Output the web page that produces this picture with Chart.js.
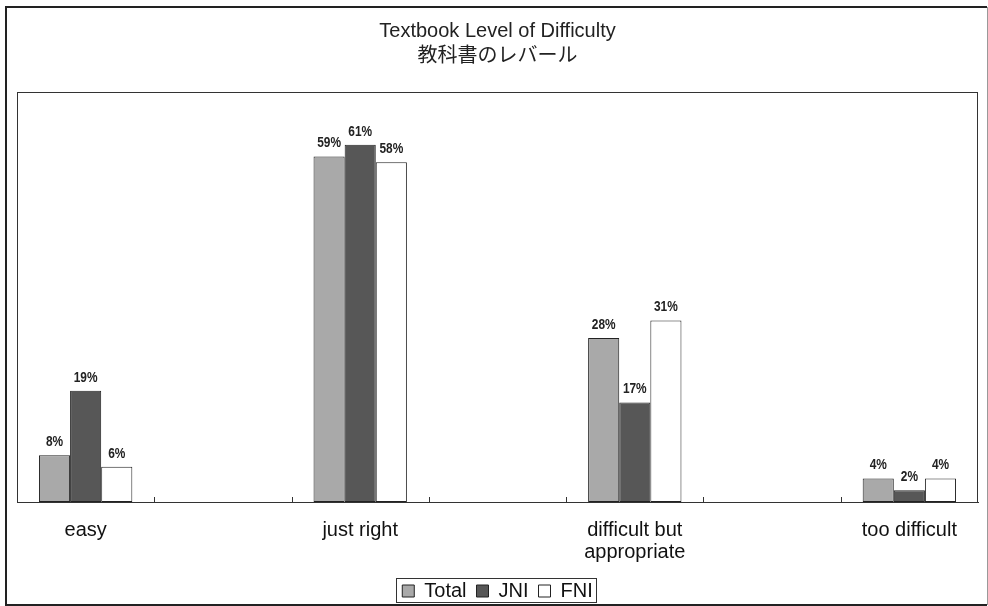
<!DOCTYPE html>
<html><head><meta charset="utf-8">
<script src="https://cdn.jsdelivr.net/npm/chart.js@4/dist/chart.umd.min.js"></script>
<style>html,body{margin:0;padding:0;background:#fff}#wrap{width:988px;height:606px}</style>
</head><body><div id="wrap"><canvas id="c" width="988" height="606"></canvas></div>
<script>
// ---- data ----
const categories = [["easy"], ["just right"], ["difficult but", "appropriate"], ["too difficult"]];
const seriesNames = ["Total", "JNI", "FNI"];
const totalValues = [8, 59, 28, 4];
const jniValues = [19, 61, 17, 2];
const fniValues = [6, 58, 31, 4];
const titleLines = ["Textbook Level of Difficulty", "教科書のレバール"];
const yMax = 70;

const seriesValues = [totalValues, jniValues, fniValues];
const seriesColors = ["#a9a9a9", "#575757", "#ffffff"];

const FONT = "'Liberation Sans', Arial, 'Noto Sans CJK JP', sans-serif";

const datasets = seriesNames.map((name, s) => ({
  label: name,
  data: seriesValues[s].map((v, i) => ({x: i, y: v})),
  backgroundColor: seriesColors[s],
  borderColor: "#222",
  borderWidth: 1,
  borderSkipped: false,
  categoryPercentage: 0.34,
  barPercentage: 1.0
}));

const decorPlugin = {
  id: 'decor',
  beforeDraw(chart) {
    const ctx = chart.ctx;
    ctx.save();
    ctx.fillStyle = '#fff';
    ctx.fillRect(0, 0, chart.width, chart.height);
    ctx.restore();
  },
  afterDatasetsDraw(chart) {
    const ctx = chart.ctx;
    const a = chart.chartArea;
    const xs = chart.scales.x;
    ctx.save();
    // plot frame
    ctx.strokeStyle = '#333';
    ctx.lineWidth = 1;
    ctx.strokeRect(a.left + 0.5, a.top + 0.5, a.right - a.left - 1, a.bottom - a.top);
    // inner tick marks at category boundaries
    ctx.beginPath();
    for (let k = 1; k < categories.length * 2 - 1; k++) {
      const v = -0.25 + k * 0.5;
      const px = Math.round(xs.getPixelForValue(v)) + 0.5;
      ctx.moveTo(px, a.bottom);
      ctx.lineTo(px, a.bottom - 5);
    }
    ctx.stroke();
    // value labels
    ctx.fillStyle = '#222';
    ctx.font = "bold 14px 'Liberation Sans', Arial, sans-serif";
    ctx.textAlign = 'center';
    ctx.textBaseline = 'bottom';
    chart.data.datasets.forEach((ds, di) => {
      const meta = chart.getDatasetMeta(di);
      meta.data.forEach((el, i) => {
        ctx.save();
        ctx.translate(el.x, el.y - 6);
        ctx.scale(0.85, 1);
        ctx.fillText(seriesValues[di][i] + '%', 0, 0);
        ctx.restore();
      });
    });
    ctx.restore();
  },
  afterDraw(chart) {
    const ctx = chart.ctx;
    ctx.save();
    // legend frame
    const lg = chart.legend;
    if (lg && lg.legendHitBoxes && lg.legendHitBoxes.length) {
      const hb = lg.legendHitBoxes;
      const l = Math.min(...hb.map(h => h.left)) - 6;
      const r = Math.max(...hb.map(h => h.left + h.width)) + 4;
      const t = Math.min(...hb.map(h => h.top)) - 3;
      const b = Math.max(...hb.map(h => h.top + h.height)) + 1;
      ctx.strokeStyle = '#333';
      ctx.lineWidth = 1;
      ctx.strokeRect(Math.round(l) + 0.5, Math.round(t) + 0.5, Math.round(r - l), Math.round(b - t));
    }
    // outer frame
    ctx.strokeStyle = '#222';
    ctx.lineWidth = 2;
    ctx.beginPath();
    ctx.moveTo(987, 7); ctx.lineTo(6, 7); ctx.lineTo(6, 605); ctx.lineTo(987, 605);
    ctx.stroke();
    ctx.strokeStyle = '#999';
    ctx.lineWidth = 1;
    ctx.beginPath();
    ctx.moveTo(987.5, 7); ctx.lineTo(987.5, 605);
    ctx.stroke();
    ctx.restore();
  }
};

new Chart(document.getElementById('c'), {
  type: 'bar',
  data: { datasets },
  options: {
    responsive: false,
    devicePixelRatio: 1,
    animation: false,
    layout: { padding: { left: 17, right: 10, top: 0, bottom: 0 } },
    plugins: {
      title: {
        display: true,
        text: titleLines,
        color: '#222',
        font: { family: FONT, size: 20, weight: 'normal', lineHeight: 1.25 },
        padding: { top: 19, bottom: 23 }
      },
      legend: {
        display: true,
        position: 'bottom',
        maxHeight: 35,
        labels: {
          color: '#111',
          font: { family: FONT, size: 20 },
          boxWidth: 12,
          boxHeight: 12,
          padding: 10
        }
      },
      tooltip: { enabled: false }
    },
    scales: {
      x: {
        type: 'linear',
        min: -0.25,
        max: 3.25,
        offset: false,
        grid: { display: false, drawTicks: false },
        border: { display: true, color: '#333', width: 1 },
        afterBuildTicks(scale) {
          scale.ticks = categories.map((c, i) => ({ value: i }));
        },
        afterFit(scale) {
          scale.height = 69;
        },
        ticks: {
          autoSkip: false,
          maxRotation: 0,
          padding: 17,
          color: '#111',
          font: { family: FONT, size: 20, lineHeight: 1.1 },
          callback: (v) => categories[Math.round(v)]
        }
      },
      y: {
        display: false,
        min: 0,
        max: yMax
      }
    }
  },
  plugins: [decorPlugin]
});
</script>
</body></html>
